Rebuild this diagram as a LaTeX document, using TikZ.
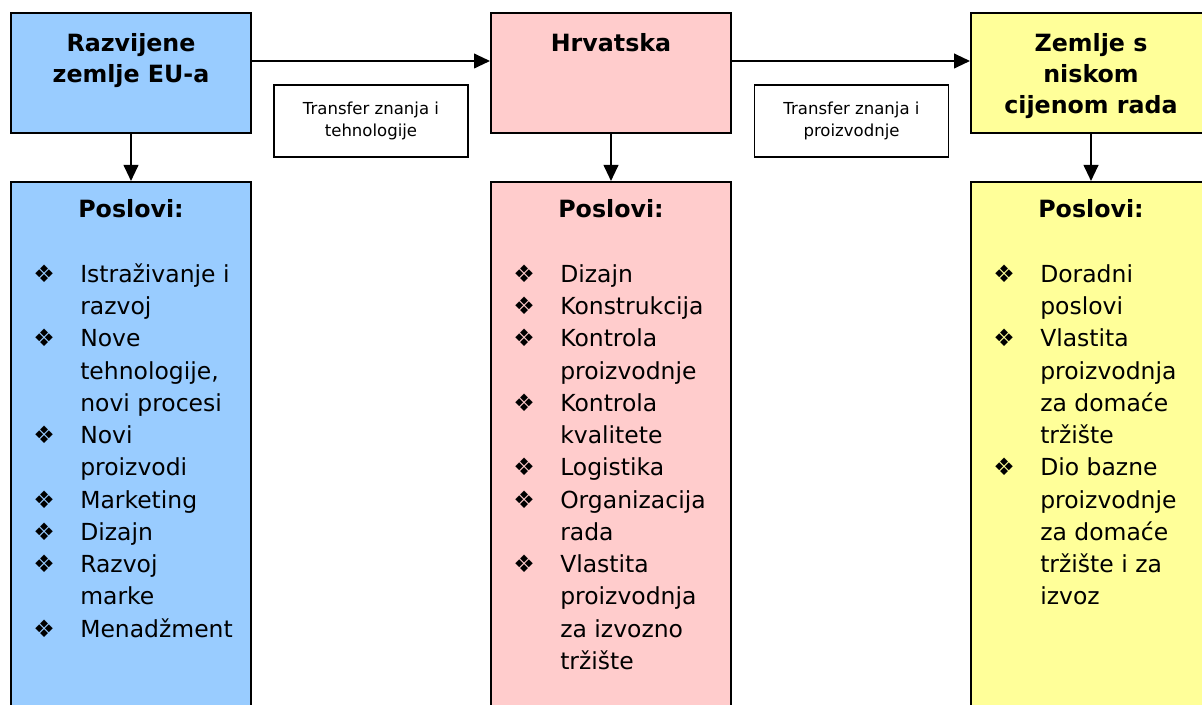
\documentclass[tikz,border=0pt]{standalone}
\usepackage{fontspec}
\setmainfont{DejaVu Sans}
\usepackage{tikz}
\usetikzlibrary{positioning,arrows.meta}
\definecolor{eublue}{HTML}{99CCFF}
\definecolor{hrpink}{HTML}{FFCCCC}
\definecolor{lowyellow}{HTML}{FFFF99}
\newcommand{\bul}{{\fontsize{18}{18}\selectfont ❖}}

\begin{document}
\begin{tikzpicture}[x=0.75pt,y=-0.75pt,
  box/.style={draw,line width=1.5pt,minimum width=180pt,inner sep=0pt},
  head/.style={box,minimum height=90pt},
  jobs/.style={box,minimum height=405pt},
  title/.style={font=\bfseries\fontsize{17.8}{23.3}\selectfont,align=center,inner sep=0pt},
  list/.style={font=\fontsize{17.6}{24.2}\selectfont,anchor=north west,inner sep=0pt},
  transfer/.style={draw,line width=1.1pt,fill=white,minimum width=145.5pt,minimum height=54pt,
    align=center,font=\fontsize{12.4}{17}\selectfont},
  arr/.style={-{Triangle[length=12pt,width=11pt]},line width=1.5pt}]
        \useasboundingbox (0,0) rectangle (1202,705);
        \clip (0,0) rectangle (1202,705);

        \node[head,fill=eublue] (eu) at (131,73) {};
        \node[head,fill=hrpink] (hr) at (611,73) {};
        \node[head,fill=lowyellow] (low) at (1091,73) {};
        \node[title,below=15.75pt of eu.north] (euTitle) {Razvijene\\zemlje EU-a};
        \node[title,below=15.75pt of hr.north] (hrTitle) {Hrvatska};
        \node[title,below=15.75pt of low.north] (lowTitle) {Zemlje s\\niskom\\cijenom rada};

        \node[jobs,fill=eublue] (euJobs) at (131,452) {};
        \node[jobs,fill=hrpink] (hrJobs) at (611,452) {};
        \node[jobs,fill=lowyellow] (lowJobs) at (1091,452) {};
        \node[title,below=13.5pt of euJobs.north] (euHead) {Poslovi:};
        \node[title,below=13.5pt of hrJobs.north] (hrHead) {Poslovi:};
        \node[title,below=13.5pt of lowJobs.north] (lowHead) {Poslovi:};

        \node[list] (euList) at (33,259.4) {\begin{tabular}{@{}p{35.25pt}@{}l@{}}
        \bul & Istraživanje i\\
             & razvoj\\
        \bul & Nove\\
             & tehnologije,\\
             & novi procesi\\
        \bul & Novi\\
             & proizvodi\\
        \bul & Marketing\\
        \bul & Dizajn\\
        \bul & Razvoj\\
             & marke\\
        \bul & Menadžment
        \end{tabular}};
        \node[list] (hrList) at (513,259.4) {\begin{tabular}{@{}p{35.25pt}@{}l@{}}
        \bul & Dizajn\\
        \bul & Konstrukcija\\
        \bul & Kontrola\\
             & proizvodnje\\
        \bul & Kontrola\\
             & kvalitete\\
        \bul & Logistika\\
        \bul & Organizacija\\
             & rada\\
        \bul & Vlastita\\
             & proizvodnja\\
             & za izvozno\\
             & tržište
        \end{tabular}};
        \node[list] (lowList) at (993,259.4) {\begin{tabular}{@{}p{35.25pt}@{}l@{}}
        \bul & Doradni\\
             & poslovi\\
        \bul & Vlastita\\
             & proizvodnja\\
             & za domaće\\
             & tržište\\
        \bul & Dio bazne\\
             & proizvodnje\\
             & za domaće\\
             & tržište i za\\
             & izvoz
        \end{tabular}};

        \node[transfer] (knowTech) at (371,121) {Transfer znanja i\\tehnologije};
        \node[transfer] (knowProd) at (851.5,121) {Transfer znanja i\\proizvodnje};

        %eu>hr>low
        \draw[arr] ([yshift=9pt]eu.east) -- ([yshift=9pt]hr.west);
        \draw[arr] ([yshift=9pt]hr.east) -- ([yshift=9pt]low.west);
        %heads>jobs
        \draw[arr] (eu.south) -- (euJobs.north);
        \draw[arr] (hr.south) -- (hrJobs.north);
        \draw[arr] (low.south) -- (lowJobs.north);
\end{tikzpicture}
\end{document}
